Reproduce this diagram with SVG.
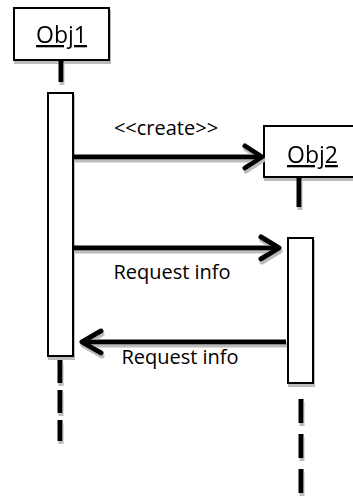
<svg xmlns="http://www.w3.org/2000/svg" width="353" height="498" viewBox="0 0 353 498">
<style>
.box{fill:#fff;stroke:#000;stroke-width:2}
.ln{stroke:#000;stroke-width:5;fill:none}
.hd{stroke:#000;stroke-width:5;fill:none;stroke-linecap:round;stroke-linejoin:round}
.t{font-family:"Open Sans","Noto Sans",sans-serif;font-size:20px;fill:#000}
.n{font-family:"Open Sans","Noto Sans",sans-serif;font-size:23px;fill:#000;text-decoration:underline}
</style>
<defs>
<filter id="sh" x="-20%" y="-20%" width="140%" height="140%">
<feDropShadow dx="1" dy="3" stdDeviation="0.6" flood-color="#bcbcbc" flood-opacity="1"/>
</filter>
</defs>
<g id="obj1" filter="url(#sh)">
<rect class="box" x="14" y="8" width="95" height="52"/>
<text class="n" x="61.5" y="43" text-anchor="middle">Obj1</text>
</g>
<g id="obj2" filter="url(#sh)">
<rect class="box" x="264" y="126" width="100" height="51"/>
<text class="n" x="312.5" y="163" text-anchor="middle">Obj2</text>
</g>
<g id="lifelines" filter="url(#sh)">
<line class="ln" x1="61" y1="60" x2="61" y2="82"/>
<line class="ln" x1="299" y1="177" x2="299" y2="207"/>
<line class="ln" x1="60" y1="360" x2="60" y2="441" stroke-dasharray="23 7"/>
<line class="ln" x1="301" y1="399" x2="301" y2="498" stroke-dasharray="24 11"/>
</g>
<g id="act1" filter="url(#sh)">
<rect class="box" x="48" y="93" width="25" height="263"/>
</g>
<g id="act2" filter="url(#sh)">
<rect class="box" x="288" y="238" width="25" height="145"/>
</g>
<g id="connectors" filter="url(#sh)">
<line class="ln" x1="73" y1="157" x2="260" y2="157"/>
<polyline class="hd" points="245,146 262,157 245,168"/>
<line class="ln" x1="73" y1="248" x2="278" y2="248"/>
<polyline class="hd" points="261,237 279,248 261,259"/>
<line class="ln" x1="286" y1="342" x2="83" y2="342"/>
<polyline class="hd" points="101,331 82,342 101,353"/>
</g>
<g id="labels">
<text class="t" x="166" y="135" text-anchor="middle">&lt;&lt;create&gt;&gt;</text>
<text class="t" x="172" y="279" text-anchor="middle">Request info</text>
<text class="t" x="180" y="364" text-anchor="middle">Request info</text>
</g>
</svg>
